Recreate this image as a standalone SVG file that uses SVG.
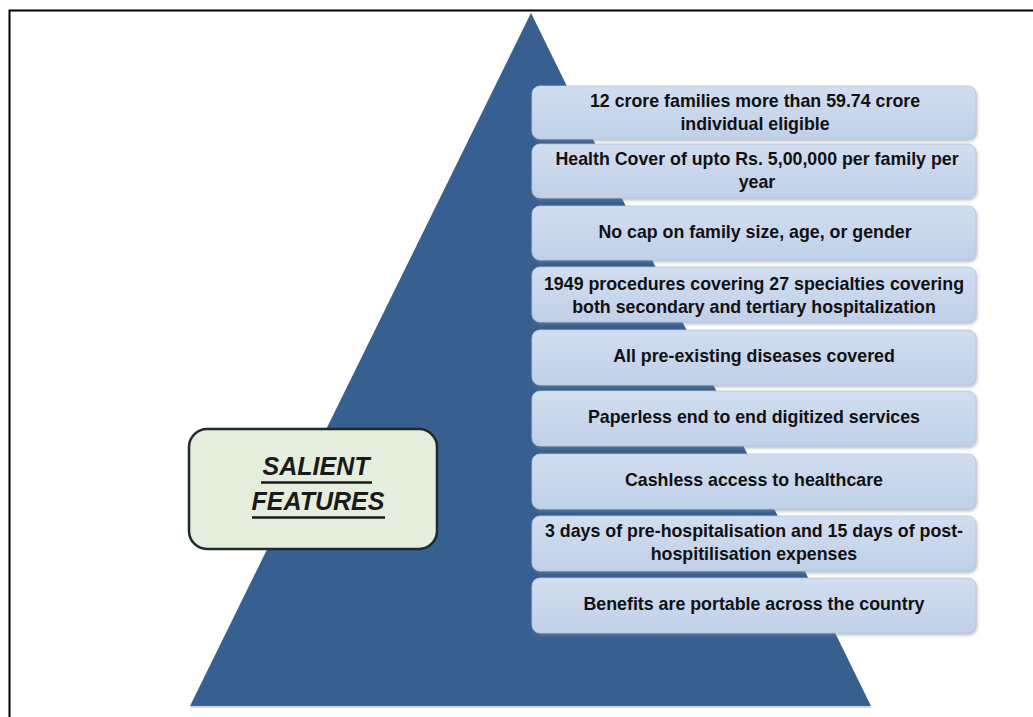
<svg xmlns="http://www.w3.org/2000/svg" width="1033" height="717" viewBox="0 0 1033 717">
<style>
.feat{fill:url(#boxg);stroke:#b7c6dc;stroke-width:0.8;filter:url(#sh)}
.t{font-family:"Liberation Sans",Arial,sans-serif;font-weight:bold;font-size:17.8px;fill:#111111;text-anchor:middle}
.s{font-family:"Liberation Sans",Arial,sans-serif;font-weight:bold;font-style:italic;font-size:25px;fill:#1a1a1a;text-anchor:middle}
</style>
<defs>
<linearGradient id="boxg" x1="0" y1="0" x2="0" y2="1">
<stop offset="0" stop-color="#d2def0"/>
<stop offset="1" stop-color="#bfd0e8"/>
</linearGradient>
<filter id="sh" x="-5%" y="-10%" width="110%" height="130%">
<feDropShadow dx="1" dy="2" stdDeviation="1.5" flood-color="#7a8699" flood-opacity="0.5"/>
</filter>
</defs>
<rect x="9.5" y="10.5" width="1030" height="720" fill="#ffffff" stroke="#000000" stroke-width="2"/>
<g id="pyramid">
<polygon points="190,708 871,708 531,13" fill="#cfd9df"/>
<polygon points="190,706 871,706 531,13" fill="#375f90"/>
</g>
<g id="salient">
<rect x="189" y="429" width="248" height="120" rx="18" fill="#e5eddc" stroke="#1f2b2b" stroke-width="2.5"/>
<text class="s" x="316" y="475">SALIENT</text>
<line x1="261" y1="482.5" x2="372" y2="482.5" stroke="#1a1a1a" stroke-width="2.5"/>
<text class="s" x="318" y="510">FEATURES</text>
<line x1="252" y1="517.5" x2="385" y2="517.5" stroke="#1a1a1a" stroke-width="2.5"/>
</g>
<g id="f1"><rect class="feat" x="532" y="86" width="444" height="53" rx="8"/>
<text class="t" x="755" y="107">12 crore families more than 59.74 crore</text>
<text class="t" x="755" y="130">individual eligible</text></g>
<g id="f2"><rect class="feat" x="532" y="144" width="444" height="54" rx="8"/>
<text class="t" x="757" y="165">Health Cover of upto Rs. 5,00,000 per family per</text>
<text class="t" x="757" y="188">year</text></g>
<g id="f3"><rect class="feat" x="532" y="206" width="444" height="54" rx="8"/>
<text class="t" x="755" y="238">No cap on family size, age, or gender</text></g>
<g id="f4"><rect class="feat" x="532" y="267" width="444" height="55" rx="8"/>
<text class="t" x="754" y="290">1949 procedures covering 27 specialties covering</text>
<text class="t" x="754" y="313">both secondary and tertiary hospitalization</text></g>
<g id="f5"><rect class="feat" x="532" y="330" width="444" height="55" rx="8"/>
<text class="t" x="754" y="362">All pre-existing diseases covered</text></g>
<g id="f6"><rect class="feat" x="532" y="391" width="444" height="55" rx="8"/>
<text class="t" x="754" y="423">Paperless end to end digitized services</text></g>
<g id="f7"><rect class="feat" x="532" y="454" width="444" height="55" rx="8"/>
<text class="t" x="754" y="486">Cashless access to healthcare</text></g>
<g id="f8"><rect class="feat" x="532" y="516" width="444" height="55" rx="8"/>
<text class="t" x="754" y="537">3 days of pre-hospitalisation and 15 days of post-</text>
<text class="t" x="754" y="560">hospitilisation expenses</text></g>
<g id="f9"><rect class="feat" x="532" y="578" width="444" height="55" rx="8"/>
<text class="t" x="754" y="610">Benefits are portable across the country</text></g>
<g id="connectors"></g>
</svg>
